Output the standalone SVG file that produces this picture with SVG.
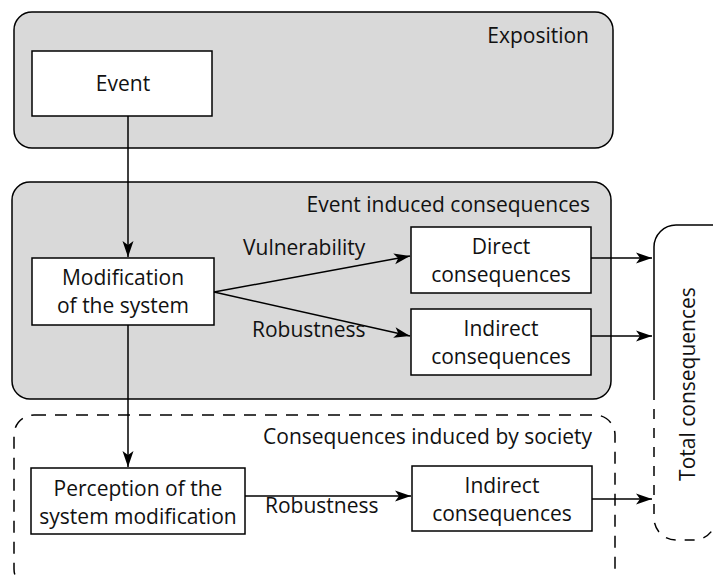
<svg xmlns="http://www.w3.org/2000/svg" width="713" height="576" viewBox="0 0 713 576">
<defs>
<marker id="arr" markerUnits="userSpaceOnUse" markerWidth="18" markerHeight="12" refX="16" refY="6" orient="auto">
<path d="M0,0.5 L16,6 L0,11.5 L4,6 z" fill="#000"/>
</marker>
<style>
text{font-family:"Open Sans","Liberation Sans",Arial,sans-serif;font-size:21px;fill:#111}
.grp{fill:#d9d9d9;stroke:#000;stroke-width:1.5}
.box{fill:#fff;stroke:#000;stroke-width:1.5}
.dash{fill:none;stroke:#000;stroke-width:1.5;stroke-dasharray:12 9}
.ln{fill:none;stroke:#000;stroke-width:1.5}
.c{text-anchor:middle}
.e{text-anchor:end}
</style>
</defs>
<rect width="713" height="576" fill="#fff"/>
<g id="exposition">
<rect class="grp" x="14" y="12" width="599" height="136" rx="18"/>
<text class="e" x="589" y="43">Exposition</text>
</g>
<g id="event-induced">
<rect class="grp" x="12" y="182" width="599" height="217" rx="18"/>
<text class="e" x="590" y="212">Event induced consequences</text>
</g>
<g id="society-induced">
<rect class="dash" x="14" y="415" width="601" height="174" rx="20"/>
<text class="e" x="592" y="444">Consequences induced by society</text>
</g>
<g id="event">
<rect class="box" x="32" y="51" width="180" height="65"/>
<text class="c" x="123" y="91">Event</text>
</g>
<g id="modification">
<rect class="box" x="32" y="258" width="182" height="67"/>
<text class="c" x="123" y="285">Modification</text>
<text class="c" x="123" y="313">of the system</text>
</g>
<g id="direct">
<rect class="box" x="411" y="227" width="180" height="66"/>
<text class="c" x="501" y="254">Direct</text>
<text class="c" x="501" y="282">consequences</text>
</g>
<g id="indirect1">
<rect class="box" x="411" y="309" width="180" height="66"/>
<text class="c" x="501" y="336">Indirect</text>
<text class="c" x="501" y="364">consequences</text>
</g>
<g id="perception">
<rect class="box" x="31" y="468" width="214" height="66"/>
<text class="c" x="138" y="496">Perception of the</text>
<text class="c" x="138" y="524">system modification</text>
</g>
<g id="indirect2">
<rect class="box" x="412" y="466" width="180" height="65"/>
<text class="c" x="502" y="493">Indirect</text>
<text class="c" x="502" y="521">consequences</text>
</g>
<g id="total">
<path class="ln" d="M720,225 H676 A22,22 0 0 0 654,247 V390"/>
<path class="ln" stroke-dasharray="10 9" d="M654,390 V518 A22,22 0 0 0 676,540 H694 A22,22 0 0 0 716,518"/>
<text class="c" transform="translate(695,384) rotate(-90)">Total consequences</text>
</g>
<g id="connectors">
<line class="ln" x1="128" y1="116" x2="128" y2="257" marker-end="url(#arr)"/>
<line class="ln" x1="214" y1="292" x2="410" y2="256" marker-end="url(#arr)"/>
<line class="ln" x1="214" y1="292" x2="410" y2="336" marker-end="url(#arr)"/>
<line class="ln" x1="591" y1="258" x2="652" y2="258" marker-end="url(#arr)"/>
<line class="ln" x1="591" y1="336" x2="652" y2="336" marker-end="url(#arr)"/>
<line class="ln" x1="128" y1="325" x2="128" y2="467" marker-end="url(#arr)"/>
<line class="ln" x1="245" y1="496" x2="411" y2="496" marker-end="url(#arr)"/>
<line class="ln" x1="592" y1="499" x2="652" y2="499" marker-end="url(#arr)"/>
<text x="243" y="255">Vulnerability</text>
<text x="252" y="337">Robustness</text>
<text x="265" y="513">Robustness</text>
</g>
</svg>
